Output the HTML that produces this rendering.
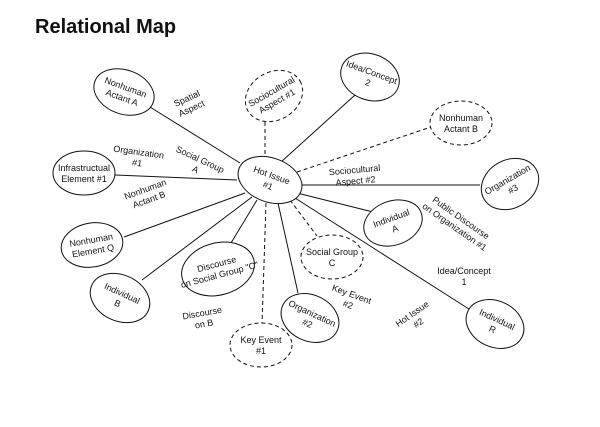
<!DOCTYPE html>
<html><head><meta charset="utf-8"><style>
html,body{margin:0;padding:0;background:#fff;}
svg{display:block}
text{font-family:"Liberation Sans",sans-serif;font-size:9px;fill:#111;text-anchor:middle}
</style></head><body>
<svg width="600" height="427" viewBox="0 0 600 427">
<text x="35" y="33" style="font-size:20px;font-weight:bold;text-anchor:start">Relational Map</text>
<g stroke="#111" stroke-width="1" fill="none">
<line x1="240" y1="163" x2="150" y2="107"/>
<line x1="281" y1="162" x2="355" y2="95"/>
<line x1="298" y1="185" x2="480" y2="185"/>
<line x1="237" y1="180" x2="115" y2="175"/>
<line x1="297" y1="193" x2="373" y2="212"/>
<line x1="245" y1="193" x2="124" y2="237"/>
<line x1="252" y1="197" x2="142" y2="280"/>
<line x1="257" y1="200" x2="231" y2="243"/>
<line x1="278" y1="203" x2="298" y2="293"/>
<line x1="295" y1="198" x2="472" y2="311"/>
<g stroke-dasharray="4,3">
<line x1="265" y1="122" x2="265" y2="157"/>
<line x1="297" y1="172" x2="431" y2="127"/>
<line x1="266" y1="203" x2="262" y2="324"/>
<line x1="290" y1="200" x2="317" y2="236"/>
</g>
<g fill="#fff">
<ellipse cx="270" cy="180" rx="33" ry="22" transform="rotate(20 270 180)"/>
<ellipse cx="124" cy="92" rx="31" ry="22" transform="rotate(20 124 92)"/>
<ellipse cx="370" cy="77" rx="30" ry="23" transform="rotate(20 370 77)"/>
<ellipse cx="510" cy="184" rx="30" ry="24" transform="rotate(-30 510 184)"/>
<ellipse cx="84" cy="173" rx="31" ry="22"/>
<ellipse cx="393" cy="223" rx="30" ry="22" transform="rotate(-20 393 223)"/>
<ellipse cx="92" cy="245" rx="31" ry="22" transform="rotate(-10 92 245)"/>
<ellipse cx="120" cy="298" rx="31" ry="23" transform="rotate(25 120 298)"/>
<ellipse cx="218" cy="269" rx="37" ry="26" transform="rotate(-15 218 269)"/>
<ellipse cx="310" cy="318" rx="30" ry="23" transform="rotate(25 310 318)"/>
<ellipse cx="495" cy="324" rx="30" ry="23" transform="rotate(25 495 324)"/>
<g stroke-dasharray="4,3">
<ellipse cx="274" cy="96" rx="30" ry="24" transform="rotate(-30 274 96)"/>
<ellipse cx="461" cy="123" rx="31" ry="22"/>
<ellipse cx="332" cy="257" rx="31" ry="22"/>
<ellipse cx="261" cy="345" rx="31" ry="22"/>
</g>
</g>
</g>
<g transform="rotate(20 270 180)"><text x="270" y="178">Hot Issue</text><text x="270" y="189">#1</text></g>
<g transform="rotate(20 124 92)"><text x="124" y="90">Nonhuman</text><text x="124" y="101">Actant A</text></g>
<g transform="rotate(-30 274 96)"><text x="274" y="94">Sociocultural</text><text x="274" y="105">Aspect #1</text></g>
<g transform="rotate(20 370 77)"><text x="370" y="75">Idea/Concept</text><text x="370" y="86">2</text></g>
<g><text x="461" y="121">Nonhuman</text><text x="461" y="132">Actant B</text></g>
<g transform="rotate(-30 510 184)"><text x="510" y="182">Organization</text><text x="510" y="193">#3</text></g>
<g><text x="84" y="171">Infrastructual</text><text x="84" y="182">Element #1</text></g>
<g transform="rotate(-20 393 223)"><text x="393" y="221">Individual</text><text x="393" y="232">A</text></g>
<g transform="rotate(-10 92 245)"><text x="92" y="243">Nonhuman</text><text x="92" y="254">Element Q</text></g>
<g transform="rotate(25 120 298)"><text x="120" y="296">Individual</text><text x="120" y="307">B</text></g>
<g transform="rotate(-15 218 269)"><text x="218" y="267">Discourse</text><text x="218" y="278">on Social Group "C"</text></g>
<g><text x="332" y="255">Social Group</text><text x="332" y="266">C</text></g>
<g transform="rotate(25 310 318)"><text x="310" y="316">Organization</text><text x="310" y="327">#2</text></g>
<g><text x="261" y="343">Key Event</text><text x="261" y="354">#1</text></g>
<g transform="rotate(25 495 324)"><text x="495" y="322">Individual</text><text x="495" y="333">R</text></g>
<g transform="rotate(-25 189 103)"><text x="189" y="101">Spatial</text><text x="189" y="112">Aspect</text></g>
<g transform="rotate(8 138 157)"><text x="138" y="155">Organization</text><text x="138" y="166">#1</text></g>
<g transform="rotate(25 198 164)"><text x="198" y="162">Social Group</text><text x="198" y="173">A</text></g>
<g transform="rotate(-20 147 194)"><text x="147" y="192">Nonhuman</text><text x="147" y="203">Actant B</text></g>
<g transform="rotate(-5 355 175)"><text x="355" y="173">Sociocultural</text><text x="355" y="184">Aspect #2</text></g>
<g transform="rotate(35 458 222)"><text x="458" y="220">Public Discourse</text><text x="458" y="231">on Organization #1</text></g>
<g><text x="464" y="274">Idea/Concept</text><text x="464" y="285">1</text></g>
<g transform="rotate(20 350 299)"><text x="350" y="297">Key Event</text><text x="350" y="308">#2</text></g>
<g transform="rotate(-35 415 318)"><text x="415" y="316">Hot Issue</text><text x="415" y="327">#2</text></g>
<g transform="rotate(-10 203 318)"><text x="203" y="316">Discourse</text><text x="203" y="327">on B</text></g>
</svg>
</body></html>
